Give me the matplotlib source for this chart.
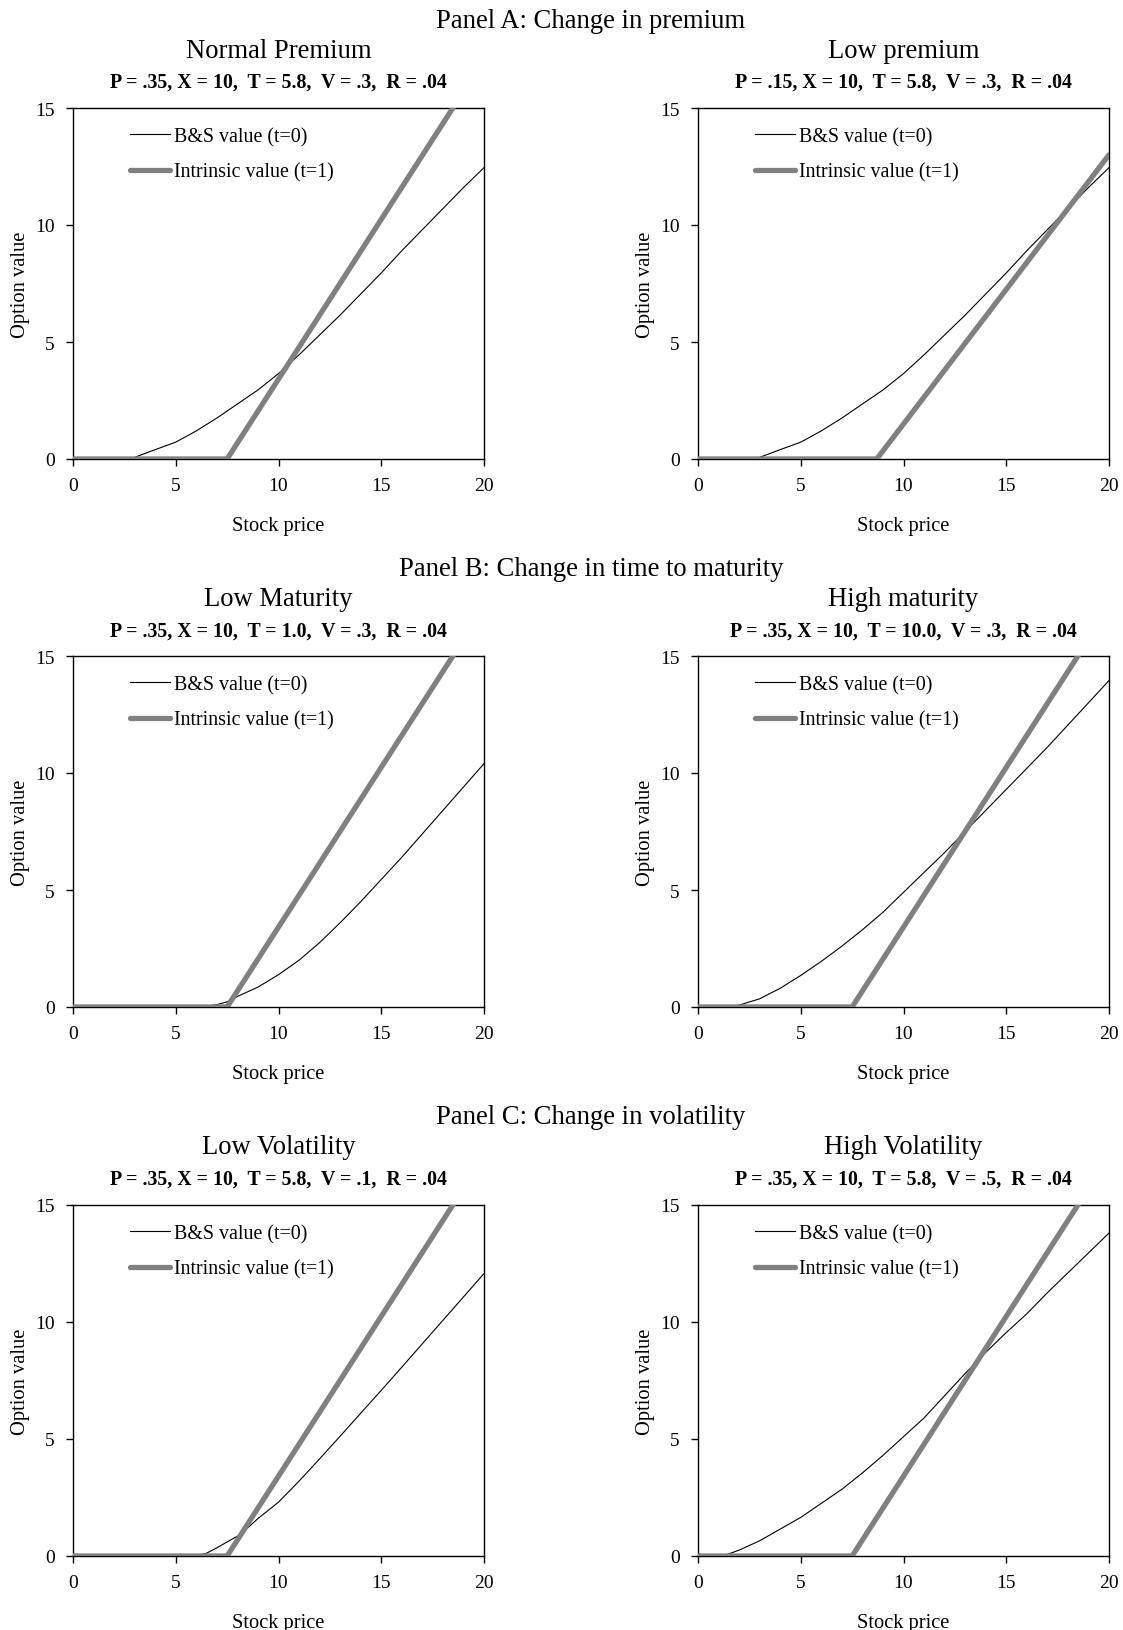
import matplotlib
matplotlib.use("Agg")
import matplotlib.pyplot as plt

plt.rcParams['font.family'] = ['Liberation Serif', 'DejaVu Serif']

# ---------------- data ----------------
stock_a = [0, 1, 2, 2.8, 3, 4, 5, 6, 7, 8, 9, 10, 11, 12, 13, 14, 15, 16, 17, 18, 19, 20]
bs_normal = [0, 0, 0, 0, 0.07, 0.4, 0.72, 1.2, 1.75, 2.35, 2.95, 3.65, 4.45, 5.3,
             6.15, 7.05, 7.95, 8.9, 9.8, 10.7, 11.6, 12.45]

stock_bl = [0, 1, 2, 3, 4, 5, 6, 6.5, 7, 7.5, 8, 9, 10, 11, 12, 13, 14, 15, 16, 17, 18, 19, 20]
bs_low_maturity = [0, 0, 0, 0, 0, 0, 0, 0.03, 0.1, 0.22, 0.45, 0.85, 1.38, 2.0, 2.75,
                   3.6, 4.5, 5.45, 6.4, 7.4, 8.4, 9.4, 10.4]

stock_br = [0, 1, 1.6, 2, 3, 4, 5, 6, 7, 8, 9, 10, 11, 12, 13, 14, 15, 16, 17, 18, 19, 20]
bs_high_maturity = [0, 0, 0, 0.08, 0.35, 0.8, 1.35, 1.95, 2.6, 3.3, 4.05, 4.9, 5.75,
                    6.6, 7.5, 8.4, 9.3, 10.2, 11.1, 12.05, 13.0, 13.95]

stock_cl = [0, 1, 2, 3, 4, 5, 6, 6.5, 7, 7.5, 8, 8.5, 9, 9.5, 10, 11, 12, 13, 14, 15,
            16, 17, 18, 19, 20]
bs_low_vol = [0, 0, 0, 0, 0, 0, 0, 0.12, 0.35, 0.6, 0.85, 1.2, 1.6, 1.95, 2.3, 3.2,
              4.15, 5.12, 6.1, 7.08, 8.07, 9.07, 10.07, 11.07, 12.07]

stock_cr = [0, 1, 1.2, 2, 3, 4, 5, 6, 7, 8, 9, 10, 11, 12, 13, 14, 15, 16, 17, 18, 19, 20]
bs_high_vol = [0, 0, 0, 0.25, 0.65, 1.15, 1.65, 2.25, 2.85, 3.55, 4.3, 5.1, 5.9, 6.85,
               7.8, 8.7, 9.55, 10.35, 11.25, 12.1, 12.95, 13.8]

# intrinsic value (t=1): flat at zero until the kink, then straight
intr_x = [0, 7.5, 20]
intr_y = [0, 0, 17.07]
intr_low_prem_x = [0, 8.7, 20]
intr_low_prem_y = [0, 0, 13.0]

panel_titles = ["Panel A: Change in premium", "Panel B: Change in time to maturity",
                "Panel C: Change in volatility"]
sub_titles = [["Normal Premium", "Low premium"],
              ["Low Maturity", "High maturity"],
              ["Low Volatility", "High Volatility"]]
param_texts = [["P = .35, X = 10,  T = 5.8,  V = .3,  R = .04",
                "P = .15, X = 10,  T = 5.8,  V = .3,  R = .04"],
               ["P = .35, X = 10,  T = 1.0,  V = .3,  R = .04",
                "P = .35, X = 10,  T = 10.0,  V = .3,  R = .04"],
               ["P = .35, X = 10,  T = 5.8,  V = .1,  R = .04",
                "P = .35, X = 10,  T = 5.8,  V = .5,  R = .04"]]

series = [[(stock_a, bs_normal, intr_x, intr_y),
           (stock_a, bs_normal, intr_low_prem_x, intr_low_prem_y)],
          [(stock_bl, bs_low_maturity, intr_x, intr_y),
           (stock_br, bs_high_maturity, intr_x, intr_y)],
          [(stock_cl, bs_low_vol, intr_x, intr_y),
           (stock_cr, bs_high_vol, intr_x, intr_y)]]

x_ticks = [0, 5, 10, 15, 20]
y_ticks = [0, 5, 10, 15]

# ---------------- layout ----------------
W, H = 1123, 1631
fig = plt.figure(figsize=(W / 100, H / 100), dpi=100)

col_left = [73, 698]
col_w = 411
row_top = [109, 657, 1206]
row_h = 351
title_y = [21, 570, 1118]

def fy(py):
    return 1 - py / H

for r in range(3):
    cx_panel = (col_left[0] + col_w / 2 + col_left[1] + col_w / 2) / 2 / W
    fig.text(cx_panel, fy(title_y[r]), panel_titles[r], ha='center', va='center',
             fontsize=19.2)
    for c in range(2):
        x0 = col_left[c] / W
        y0 = 1 - (row_top[r] + row_h) / H
        ax = fig.add_axes([x0, y0, col_w / W, row_h / H])
        sx, bs, ix, iy = series[r][c]
        ax.plot(sx, bs, color='black', lw=0.8, label='B&S value (t=0)', zorder=3)
        ax.plot(ix, iy, color='#808080', lw=3.8, label='Intrinsic value (t=1)',
                zorder=4, solid_capstyle='round')
        ax.set_xlim(0, 20)
        ax.set_ylim(0, 15)
        ax.set_xticks(x_ticks)
        ax.set_yticks(y_ticks)
        ax.tick_params(direction='out', length=5, width=1, labelsize=14, pad=8)
        for s in ax.spines.values():
            s.set_linewidth(1.0)
        ax.set_xlabel('Stock price', fontsize=14.8, labelpad=16)
        ax.set_ylabel('Option value', fontsize=14.8, labelpad=4)
        leg = ax.legend(loc='upper left', bbox_to_anchor=(0.139, 0.946), frameon=False,
                        fontsize=14.4, handlelength=2.0, handletextpad=0.2,
                        borderpad=0, borderaxespad=0, labelspacing=0.82)
        cx = (col_left[c] + col_w / 2) / W
        fig.text(cx, fy(title_y[r] + 30), sub_titles[r][c], ha='center', va='center',
                 fontsize=19.2)
        fig.text(cx, fy(title_y[r] + 62), param_texts[r][c], ha='center', va='center',
                 fontsize=14.3, fontweight='bold')

fig.savefig('out.png', dpi=100)
